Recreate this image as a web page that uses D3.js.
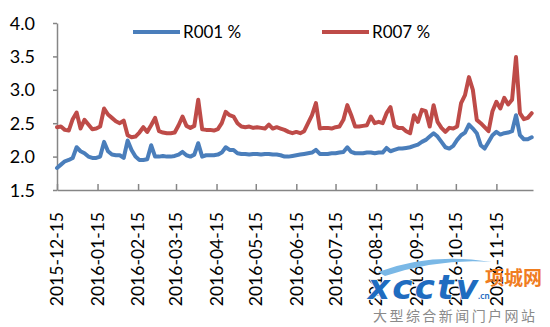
<!DOCTYPE html>
<html>
<head>
<meta charset="utf-8">
<script src="https://cdn.jsdelivr.net/npm/d3@7"></script>
<style>
  html, body { margin: 0; padding: 0; background: #fff; }
  svg { display: block; }
  text { font-family: Lato, "Open Sans", sans-serif; fill: #000; }
</style>
</head>
<body>
<svg id="chart" width="550" height="327"></svg>
<script>
// Overnight (R001) and 7-day (R007) repo rates, %, sampled every 3 days from 2015-12-15
const startDate = "2015-12-15";
const stepDays = 3;

const r001 = [
  1.83, 1.88, 1.93, 1.95, 1.98, 2.14, 2.08, 2.05, 2.00, 1.98,
  1.98, 2.00, 2.22, 2.08, 2.03, 2.02, 2.02, 1.98, 2.24, 2.10,
  2.00, 1.95, 1.95, 1.96, 2.17, 2.00, 2.00, 2.01, 2.00, 2.00,
  2.01, 2.03, 2.07, 2.02, 2.00, 2.03, 2.20, 2.00, 2.02, 2.02,
  2.02, 2.03, 2.06, 2.14, 2.10, 2.10, 2.05, 2.04, 2.04, 2.03,
  2.04, 2.04, 2.03, 2.04, 2.04, 2.03, 2.03, 2.02, 2.00, 2.00,
  2.01, 2.02, 2.03, 2.04, 2.05, 2.06, 2.10, 2.04, 2.04, 2.04,
  2.05, 2.05, 2.06, 2.07, 2.14, 2.07, 2.05, 2.05, 2.05, 2.06,
  2.06, 2.05, 2.06, 2.06, 2.13, 2.08, 2.10, 2.12, 2.12, 2.13,
  2.14, 2.16, 2.18, 2.22, 2.25, 2.30, 2.35, 2.30, 2.22, 2.14,
  2.12, 2.16, 2.25, 2.32, 2.36, 2.48, 2.42, 2.35, 2.17, 2.12,
  2.22, 2.32, 2.37, 2.33, 2.35, 2.36, 2.38, 2.62, 2.32, 2.26,
  2.26, 2.29
];

const r007 = [
  2.44, 2.45, 2.40, 2.39, 2.56, 2.66, 2.42, 2.55, 2.48, 2.41,
  2.42, 2.45, 2.72, 2.63, 2.58, 2.53, 2.50, 2.54, 2.32, 2.29,
  2.30, 2.36, 2.44, 2.37, 2.47, 2.58, 2.38, 2.36, 2.35, 2.35,
  2.36, 2.47, 2.60, 2.46, 2.43, 2.46, 2.85, 2.41, 2.40, 2.40,
  2.39, 2.41, 2.50, 2.67, 2.62, 2.60, 2.50, 2.45, 2.44, 2.45,
  2.43, 2.44, 2.43, 2.42, 2.48, 2.42, 2.44, 2.42, 2.40, 2.37,
  2.35, 2.37, 2.35, 2.38, 2.50, 2.62, 2.80, 2.42, 2.43, 2.43,
  2.42, 2.44, 2.45, 2.55, 2.77, 2.62, 2.45, 2.45, 2.46, 2.47,
  2.60, 2.50, 2.52, 2.50, 2.65, 2.74, 2.46, 2.43, 2.43, 2.38,
  2.35, 2.62, 2.52, 2.70, 2.68, 2.45, 2.77, 2.52, 2.43, 2.37,
  2.43, 2.42, 2.45, 2.80, 2.92, 3.19, 3.00, 2.55, 2.50, 2.44,
  2.38, 2.68, 2.82, 2.72, 2.88, 2.78, 2.85, 3.49, 2.65, 2.56,
  2.58, 2.65
];

const seriesNames = ["R001 %", "R007 %"];
const seriesColors = ["#4A7EBB", "#BE4B48"];

const yTicks = [1.5, 2.0, 2.5, 3.0, 3.5, 4.0];
const xTickLabels = [
  "2015-12-15", "2016-01-15", "2016-02-15", "2016-03-15", "2016-04-15", "2016-05-15",
  "2016-06-15", "2016-07-15", "2016-08-15", "2016-09-15", "2016-10-15", "2016-11-15"
];
const xDomainEnd = "2016-12-13";

const parse = d3.timeParse("%Y-%m-%d");
const t0 = parse(startDate);
const dates = r001.map((_, i) => d3.timeDay.offset(t0, i * stepDays));

const svg = d3.select("#chart");
const axisColor = "#868686";

const x = d3.scaleTime().domain([t0, parse(xDomainEnd)]).range([57, 533]);
const y = d3.scaleLinear().domain([1.5, 4.0]).range([190, 23]);

// y axis
const yAxis = svg.append("g")
  .attr("transform", "translate(57,0)")
  .call(d3.axisLeft(y).tickValues(yTicks).tickFormat(d3.format(".1f")).tickSizeInner(4).tickSizeOuter(0).tickPadding(18));
yAxis.select(".domain").attr("stroke", axisColor).attr("stroke-width", 1.5);
yAxis.selectAll(".tick line").attr("stroke", axisColor).attr("stroke-width", 1.5);
yAxis.selectAll(".tick text").style("font-size", "18px").style("fill", "#000")
  .style("font-family", "Lato, sans-serif").attr("dy", "0.34em");

// x axis with ticks pointing into the plot
const xTickDates = xTickLabels.map(parse);
const xAxis = svg.append("g")
  .attr("transform", "translate(0,190)")
  .call(d3.axisBottom(x).tickValues(xTickDates).tickSizeInner(-6).tickSizeOuter(0).tickFormat(""));
xAxis.select(".domain").attr("stroke", axisColor).attr("stroke-width", 1.5);
xAxis.selectAll(".tick line").attr("stroke", axisColor).attr("stroke-width", 1.5);

// rotated date labels
svg.append("g").selectAll("text")
  .data(xTickLabels)
  .join("text")
  .attr("transform", d => `translate(${x(parse(d))},212) rotate(-90)`)
  .attr("text-anchor", "end")
  .attr("dy", "0.36em")
  .style("font-size", "17.5px")
  .text(d => d);

// series lines
const line = d3.line()
  .x((d, i) => x(dates[i]))
  .y(d => y(d))
  .curve(d3.curveLinear);

[r007, r001].forEach((vals, k) => {
  const idx = k === 0 ? 1 : 0;
  svg.append("path")
    .datum(vals)
    .attr("fill", "none")
    .attr("stroke", seriesColors[idx])
    .attr("stroke-width", 4)
    .attr("stroke-linejoin", "round")
    .attr("stroke-linecap", "round")
    .attr("d", line);
});

// legend
const legendPos = [{ x: 133 }, { x: 322 }];
seriesNames.forEach((name, i) => {
  const g = svg.append("g").attr("transform", `translate(${legendPos[i].x},32)`);
  g.append("line").attr("x1", 0).attr("x2", 47).attr("y1", 0).attr("y2", 0)
    .attr("stroke", seriesColors[i]).attr("stroke-width", 4);
  g.append("text").attr("x", 50).attr("dy", "0.36em")
    .style("font-size", "17px").text(name);
});

// site watermark
const wm = svg.append("g");
wm.append("path")
  .attr("d", "M378,272 Q430,252 492,262 Q440,258 385,276 Z")
  .attr("fill", "#7ab8e6");
wm.append("text").attr("x", 368).attr("y", 299)
  .style("font-family", "'DejaVu Sans', sans-serif").style("font-weight", "bold")
  .style("font-style", "italic").style("font-size", "34px")
  .style("fill", "#1f6cc0").style("stroke", "#fff").style("stroke-width", 1.5)
  .style("paint-order", "stroke").attr("textLength", 110).text("xcctv");
wm.append("text").attr("x", 478).attr("y", 299)
  .style("font-size", "9px").style("font-weight", "bold").style("fill", "#1f6cc0").text(".cn");
wm.append("text").attr("x", 485).attr("y", 285)
  .style("font-family", "'Noto Sans CJK SC', sans-serif").style("font-weight", "bold")
  .style("font-size", "19px").style("fill", "#f07d1f").text("项城网");
wm.append("text").attr("x", 373).attr("y", 321)
  .style("font-family", "'Noto Sans CJK SC', sans-serif")
  .style("font-size", "14px").style("fill", "#8a8a8a")
  .attr("textLength", 162).text("大型综合新闻门户网站");
</script>
</body>
</html>
